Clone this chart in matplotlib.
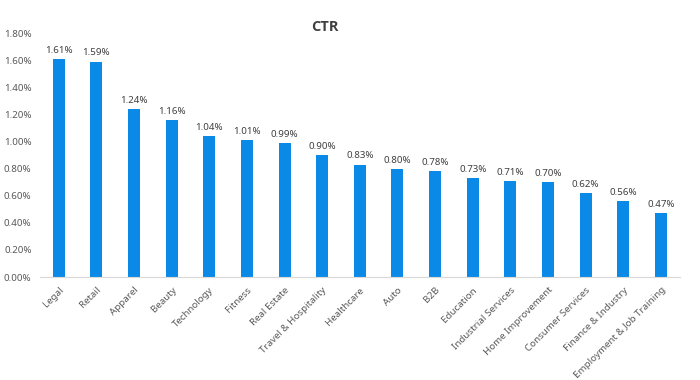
import matplotlib.pyplot as plt
from matplotlib.ticker import PercentFormatter

categories = ["Legal", "Retail", "Apparel", "Beauty", "Technology", "Fitness",
              "Real Estate", "Travel & Hospitality", "Healthcare", "Auto", "B2B",
              "Education", "Industrial Services", "Home Improvement",
              "Consumer Services", "Finance & Industry", "Employment & Job Training"]
ctr = [1.61, 1.59, 1.24, 1.16, 1.04, 1.01, 0.99, 0.90, 0.83, 0.80, 0.78,
       0.73, 0.71, 0.70, 0.62, 0.56, 0.47]


def main():
    plt.rcParams["font.family"] = ["Noto Sans", "DejaVu Sans"]
    fig = plt.figure(figsize=(7, 3.8), dpi=100)
    ax = fig.add_axes([0.057, 0.271, 0.914, 0.642])

    x = range(len(categories))
    bars = ax.bar(x, ctr, width=0.32, color="#0a8ae6")
    for b, v in zip(bars, ctr):
        ax.text(b.get_x() + b.get_width() / 2, v + 0.03, f"{v:.2f}%",
                ha="center", va="bottom", fontsize=7, color="#404040")

    ax.set_xlim(-0.5, len(categories) - 0.5)
    ax.set_ylim(0, 1.8)
    ax.set_yticks([i * 0.2 for i in range(10)])
    ax.yaxis.set_major_formatter(PercentFormatter(decimals=2))
    ax.set_xticks(list(x))
    ax.set_xticklabels(categories, rotation=45, ha="right", rotation_mode="anchor")

    for s in ["top", "right", "left"]:
        ax.spines[s].set_visible(False)
    ax.spines["bottom"].set_color("#d9d9d9")
    ax.tick_params(axis="both", length=0, labelsize=7, colors="#595959")
    ax.tick_params(axis="y", pad=6)
    ax.tick_params(axis="x", pad=6)

    fig.text(0.464, 0.928, "CTR", ha="center", va="center", fontsize=10.5,
             fontweight="bold", color="#404040", family=["Open Sans", "DejaVu Sans"])

    fig.savefig("out.png", dpi=100)


if __name__ == "__main__":
    main()
